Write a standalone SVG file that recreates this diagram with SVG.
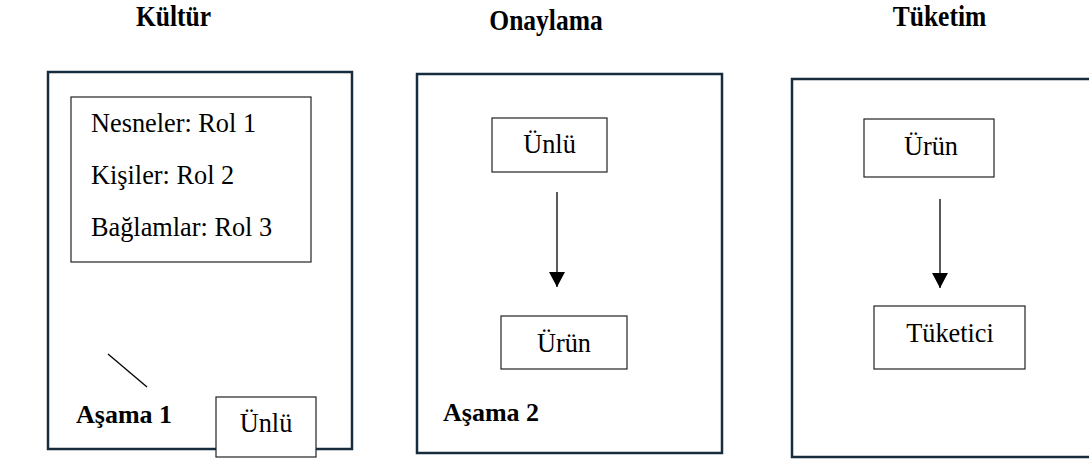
<svg xmlns="http://www.w3.org/2000/svg" width="1089" height="460" viewBox="0 0 1089 460">
<style>
.panel{fill:#fff;stroke:#172d3d;stroke-width:2.5}
.box{fill:#fff;stroke:#222;stroke-width:1.2}
.t{font-family:"Liberation Serif","Times New Roman",serif;font-size:26.3px;fill:#000}
.title{font-family:"Liberation Serif","Times New Roman",serif;font-size:29px;font-weight:bold;fill:#000}
.b{font-family:"Liberation Serif","Times New Roman",serif;font-size:26px;font-weight:bold;fill:#000}
.conn{stroke:#000;stroke-width:1.3;fill:none}
</style>
<defs>
<marker id="arr" markerWidth="15" markerHeight="16" refX="15" refY="8" orient="auto" markerUnits="userSpaceOnUse">
<path d="M0,0 L15,8 L0,16 Z" fill="#000"/>
</marker>
</defs>
<rect width="1089" height="460" fill="#fff"/>
<g id="titles">
<text class="title" transform="translate(173.5,26) scale(0.88,1)" text-anchor="middle">Kültür</text>
<text class="title" transform="translate(546,30) scale(0.88,1)" text-anchor="middle">Onaylama</text>
<text class="title" transform="translate(939.5,26) scale(0.88,1)" text-anchor="middle">Tüketim</text>
</g>
<g id="panel1">
<rect class="panel" x="48" y="72" width="304" height="377"/>
<text class="b" x="76" y="423">Aşama 1</text>
</g>
<g id="roles">
<rect class="box" x="71" y="97" width="240" height="165"/>
<text class="t" x="91" y="132">Nesneler: Rol 1</text>
<text class="t" x="91" y="184">Kişiler: Rol 2</text>
<text class="t" x="91" y="236">Bağlamlar: Rol 3</text>
</g>
<g id="unlu1">
<rect class="box" x="216" y="397" width="100" height="60"/>
<text class="t" x="266" y="432" text-anchor="middle">Ünlü</text>
</g>
<g id="panel2">
<rect class="panel" x="417" y="74" width="305" height="379"/>
<text class="b" x="443" y="421">Aşama 2</text>
</g>
<g id="unlu2">
<rect class="box" x="492" y="118" width="115" height="54"/>
<text class="t" x="549.5" y="153" text-anchor="middle">Ünlü</text>
</g>
<g id="urun2">
<rect class="box" x="501" y="316" width="126" height="53"/>
<text class="t" x="564" y="352" text-anchor="middle">Ürün</text>
</g>
<g id="panel3">
<rect class="panel" x="792" y="79" width="310" height="378"/>
</g>
<g id="urun3">
<rect class="box" x="864" y="119" width="130" height="58"/>
<text class="t" x="931" y="155" text-anchor="middle">Ürün</text>
</g>
<g id="tuketici">
<rect class="box" x="874" y="306" width="151" height="63"/>
<text class="t" x="950" y="342" text-anchor="middle">Tüketici</text>
</g>
<g id="connectors">
<line class="conn" x1="108" y1="354" x2="147" y2="387"/>
<line class="conn" x1="557" y1="192" x2="557" y2="287" marker-end="url(#arr)"/>
<line class="conn" x1="940" y1="199" x2="940" y2="288" marker-end="url(#arr)"/>
</g>
</svg>
